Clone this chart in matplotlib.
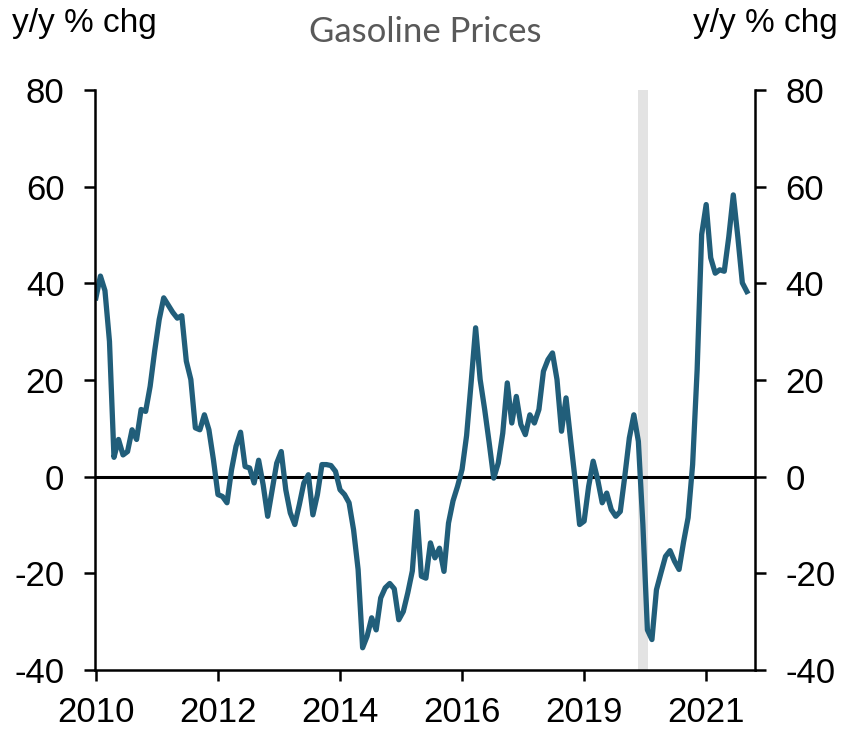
import matplotlib
matplotlib.use("Agg")
import matplotlib.pyplot as plt

# Gasoline CPI, y/y % change, monthly Feb 2010 - Feb 2022
gas_yoy = [
    37.0, 41.5, 38.5, 28.0, 4.0, 7.7, 4.5, 5.2, 9.7, 7.7, 13.9, 13.5,
    18.7, 26.0, 32.5, 37.0, 35.5, 34.0, 32.8, 33.3, 23.9, 20.1, 10.1, 9.7,
    12.8, 9.7, 3.5, -3.7, -4.1, -5.4, 1.4, 6.3, 9.2, 2.1, 1.8, -1.3,
    3.4, -1.7, -8.2, -2.7, 2.8, 5.2, -2.7, -7.5, -9.9, -5.8, -1.3, 0.4,
    -7.9, -3.7, 2.5, 2.5, 2.3, 1.1, -2.7, -3.7, -5.4, -11.0, -19.2, -35.4,
    -33.0, -29.2, -31.7, -25.1, -23.0, -22.1, -23.2, -29.6, -27.9, -24.0, -19.5, -7.2,
    -20.6, -21.0, -13.7, -16.8, -14.8, -19.6, -9.6, -5.0, -2.0, 1.5, 8.5, 19.4,
    30.8, 20.1, 13.9, 7.0, -0.3, 2.8, 9.0, 19.4, 11.1, 16.6, 10.8, 8.7,
    12.8, 11.1, 13.9, 21.8, 24.2, 25.6, 20.1, 9.4, 16.3, 7.7, -0.6, -9.9,
    -9.2, -2.0, 3.2, -0.6, -5.4, -3.4, -6.8, -8.2, -7.2, 0.1, 8.0, 12.8,
    7.3, -10.0, -31.7, -33.7, -23.4, -19.9, -16.5, -15.3, -17.5, -19.2, -13.5, -8.5,
    2.5, 22.1, 50.1, 56.3, 45.3, 42.1, 42.8, 42.5, 49.6, 58.3, 49.6, 40.1,
    38.3,
]
months = list(range(len(gas_yoy)))

# category-style date axis: a label every 27 months
xtick_pos = [0, 27, 54, 81, 108, 135]
xtick_labels = ["2010", "2012", "2014", "2016", "2019", "2021"]
yticks = [-40, -20, 0, 20, 40, 60, 80]

# recession shading (Feb-Apr 2020)
rec_start, rec_end = 119.9, 122.1

plt.rcParams["font.family"] = ["Liberation Sans", "DejaVu Sans"]
plt.rcParams["axes.unicode_minus"] = False

fig = plt.figure(figsize=(8.42, 7.32), dpi=100)
ax = fig.add_axes([95 / 842, 1 - 670 / 732, 660 / 842, 580 / 732])

ax.axvspan(rec_start, rec_end, color="#e3e3e3", lw=0, zorder=0)
ax.axhline(0, color="black", lw=2.2, zorder=1)
ax.plot(months, gas_yoy, color="#215e7a", lw=3.8, solid_joinstyle="round", zorder=2)

ax.set_xlim(-0.2, 145.8)
ax.set_ylim(-40, 80)
ax.set_xticks(xtick_pos)
ax.set_xticklabels(xtick_labels)
ax.set_yticks(yticks)
ax.set_yticklabels([str(v) for v in yticks])

ax.spines["top"].set_visible(False)
for s in ["left", "right", "bottom"]:
    ax.spines[s].set_linewidth(1.8)
    ax.spines[s].set_color("black")

ax.tick_params(axis="y", which="both", direction="out", length=8, width=1.8,
               labelsize=25, pad=14, left=True, right=True,
               labelleft=True, labelright=True)
ax.tick_params(axis="x", direction="out", length=8, width=1.8,
               labelsize=25, pad=11)

fig.text(12 / 842, 1 - 32 / 732, "y/y % chg", fontsize=24,
         ha="left", va="baseline")
fig.text(838 / 842, 1 - 32 / 732, "y/y % chg", fontsize=24,
         ha="right", va="baseline")
fig.text(425 / 842, 1 - 42 / 732, "Gasoline Prices", family="Lato",
         fontsize=25, color="#595959", ha="center", va="baseline")

fig.savefig("out.png", dpi=100)
